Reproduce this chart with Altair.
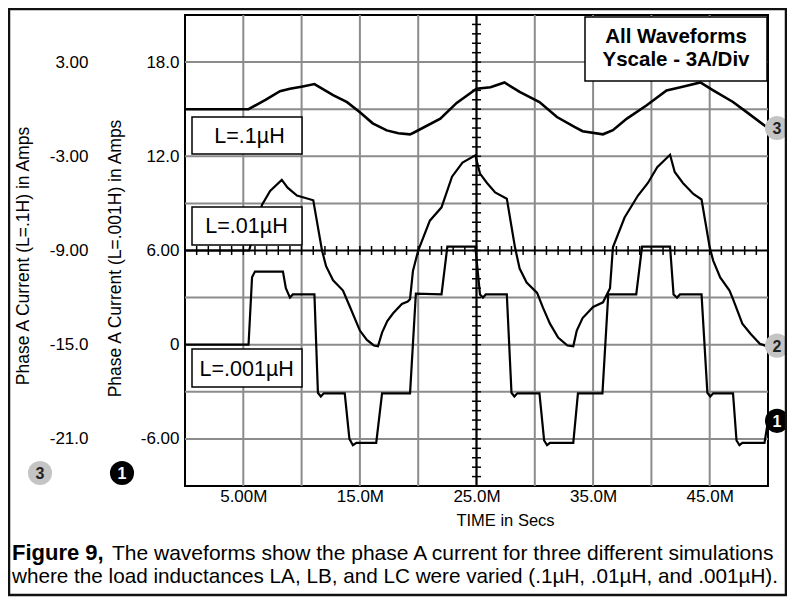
import altair as alt
import pandas as pd

FONT = "Liberation Sans"

# ---------------- data (time in "M" units, current in A on each curve's own axis) -------------
# curve 1 : L = .001 uH  (inner left axis)
t_001 = [0, 5.45, 5.75, 6.0, 8.4, 8.65, 9.0, 9.25, 11.1, 11.4, 11.65, 11.9, 13.7, 14.1, 14.4, 14.7,
         16.4, 16.9, 19.3, 19.8, 22.0, 22.5, 24.9, 25.3, 25.55, 25.8, 27.6, 28.0, 28.25, 28.5,
         30.4, 30.8, 31.05, 31.3, 33.3, 33.7, 35.8, 36.3, 38.7, 39.2, 41.6, 41.9, 42.2, 42.45,
         44.3, 44.8, 45.05, 45.3, 47.0, 47.3, 47.55, 47.8, 49.7, 50.0]
i_001 = [0, 0, 4.3, 4.66, 4.66, 3.6, 3.0, 3.2, 3.2, -3.06, -3.3, -3.1, -3.1, -6.0, -6.4, -6.25,
         -6.25, -3.1, -3.1, 3.25, 3.2, 6.25, 6.25, 3.2, 3.0, 3.2, 3.2, -3.06, -3.3, -3.1,
         -3.1, -6.1, -6.4, -6.25, -6.25, -3.1, -3.1, 3.2, 3.2, 6.25, 6.25, 3.2, 3.0, 3.2,
         3.2, -3.06, -3.3, -3.1, -3.1, -6.1, -6.4, -6.25, -6.25, -4.85]

# curve 2 : L = .01 uH  (drawn 6 A above the inner axis zero)
t_01 = [0, 5.5, 6.6, 7.3, 8.3, 8.8, 9.6, 11.0, 11.75, 12.1, 12.7, 13.55, 14.15, 15.0, 15.6, 16.2,
        16.55, 16.9, 17.35, 17.85, 18.6, 19.1, 19.3, 19.55, 20.0, 21.0, 22.0, 22.9, 23.8, 24.9,
        25.3, 25.9, 26.6, 27.6, 28.3, 28.7, 29.3, 30.2, 30.7, 31.3, 32.0, 32.8, 33.3, 33.6,
        34.1, 35.0, 35.85, 36.45, 36.7, 37.7, 38.85, 39.7, 40.5, 41.6, 42.0, 42.7, 43.6, 44.3,
        45.0, 45.3, 45.9, 46.7, 47.0, 47.8, 48.5, 49.3, 49.9, 50.0]
i_01 = [0, 0, 2.9, 3.8, 4.5, 4.0, 3.5, 3.2, 0.0, -1.0, -1.9, -2.55, -3.6, -5.1, -5.7, -6.05,
        -6.1, -5.23, -4.5, -4.0, -3.4, -3.25, -3.1, -1.3, 0.0, 1.9, 2.75, 4.7, 5.6, 6.06,
        4.9, 4.3, 3.7, 3.3, 0.2, -1.15, -2.04, -2.7, -3.64, -4.66, -5.55, -6.05, -6.1, -5.1,
        -4.3, -3.6, -3.3, -2.4, 0.2, 2.1, 3.5, 4.3, 5.3, 6.1, 5.0, 4.3, 3.6, 3.25,
        0.2, -0.64, -1.72, -2.55, -3.1, -4.66, -5.3, -5.94, -6.1, -6.06]
OFFSET_01 = 6

# curve 3 : L = .1 uH  (outer left axis)
t_1 = [0, 5.45, 6.9, 8.15, 9.0, 10.1, 11.1, 12.7, 13.9, 15.0, 16.1, 17.3, 18.3, 19.3, 19.6, 21.9,
       23.3, 25.0, 26.2, 27.4, 28.7, 30.4, 31.9, 33.4, 34.1, 35.85, 36.7, 37.9, 39.6, 41.3, 42.5,
       44.2, 45.3, 47.0, 48.2, 50.0]
i_1 = [0, 0, 0.6, 1.15, 1.3, 1.45, 1.6, 0.9, 0.45, -0.2, -0.9, -1.35, -1.53, -1.6, -1.5, -0.6,
       0.4, 1.3, 1.4, 1.7, 1.1, 0.46, -0.5, -1.13, -1.4, -1.6, -1.34, -0.6, 0.25, 1.2, 1.4,
       1.7, 1.2, 0.46, -0.2, -1.2]

x_label_vals = [5, 15, 25, 35, 45]
x_grid_vals = [5, 10, 15, 20, 25, 30, 35, 40, 45]
y_grid_vals = [-6, -3, 0, 3, 9, 12, 15, 18]
y_inner_vals = [-6, 0, 6, 12, 18]
y_outer_vals = [-21, -15, -9, -3, 3]
x_minor_vals = list(range(0, 51))
y_minor_vals = [round(-9 + 0.6 * k, 2) for k in range(51)]
CENTER_T = 25
CENTER_V = 6

NUM = "(datum.value < 0 ? '-' : '') + (datum.value == 0 ? '0' : format(abs(datum.value), '.3r'))"

df1 = pd.DataFrame({"t": t_001, "v": i_001})
df2 = pd.DataFrame({"t": t_01, "i": i_01})
df3 = pd.DataFrame({"t": t_1, "v": i_1})
dummy = pd.DataFrame({"a": [0]})

x_enc = alt.X("t:Q", scale=alt.Scale(domain=[0, 50], nice=False, zero=False),
              axis=alt.Axis(values=x_label_vals, labelExpr="format(datum.value, '.3r') + 'M'",
                            grid=False, domain=False, ticks=False, tickSize=0, labelPadding=2,
                            labelFontSize=17, labelFont=FONT, labelColor="black", labelFlush=False,
                            title="TIME in Secs", titleFont=FONT, titleFontSize=16.5,
                            titleFontWeight="normal", titleColor="black", titleX=320, titleY=39,
                            titleAlign="center", titleBaseline="alphabetic"))

y_inner = alt.Y("v:Q", scale=alt.Scale(domain=[-9, 21], nice=False, zero=False),
                axis=alt.Axis(values=y_inner_vals, labelExpr=NUM, grid=False, domain=False,
                              ticks=False, tickSize=0, labelPadding=6, labelFontSize=17,
                              labelFont=FONT, labelColor="black", labelFlush=False,
                              title="Phase A Current (L=.001H) in Amps", titleFont=FONT,
                              titleFontSize=17.5, titleFontWeight="normal", titleColor="black",
                              titleAngle=270, titleX=-70, titleY=243, titleAlign="center",
                              titleBaseline="middle"))

y_outer = alt.Y("v:Q", scale=alt.Scale(domain=[-24, 6], nice=False, zero=False),
                axis=alt.Axis(orient="left", offset=97, values=y_outer_vals, labelExpr=NUM,
                              grid=False, domain=False, ticks=False, tickSize=0, labelPadding=0,
                              labelFontSize=17, labelFont=FONT, labelColor="black", labelFlush=False,
                              title="Phase A Current (L=.1H) in Amps", titleFont=FONT,
                              titleFontSize=17.5, titleFontWeight="normal", titleColor="black",
                              titleAngle=270, titleX=-65, titleY=240.5, titleAlign="center",
                              titleBaseline="middle"))

GRID = "#8c8c8c"
BADGE = 580
BX = 9

# ---------------- layer A : grid, crosshair, curves 1 and 2 ----------------
vgrid = alt.Chart(pd.DataFrame({"t": x_grid_vals})).mark_rule(color=GRID, strokeWidth=2).encode(x=x_enc)
hgrid = alt.Chart(pd.DataFrame({"v": y_grid_vals})).mark_rule(color=GRID, strokeWidth=2).encode(y=y_inner)
hcross = alt.Chart(pd.DataFrame({"v": [CENTER_V]})).mark_rule(color="black", strokeWidth=2).encode(y=y_inner)
vcross = alt.Chart(pd.DataFrame({"t": [CENTER_T]})).mark_rule(color="black", strokeWidth=2).encode(x=x_enc)
hticks = alt.Chart(pd.DataFrame({"t": x_minor_vals, "v": [CENTER_V] * len(x_minor_vals)})).mark_tick(
    orient="vertical", size=9, thickness=1.5, color="black", opacity=1).encode(x=x_enc, y=y_inner)
vticks = alt.Chart(pd.DataFrame({"t": [CENTER_T] * len(y_minor_vals), "v": y_minor_vals})).mark_tick(
    orient="horizontal", size=9, thickness=1.5, color="black", opacity=1).encode(x=x_enc, y=y_inner)

c1 = alt.Chart(df1).mark_line(color="black", strokeWidth=2.2).encode(x=x_enc, y=y_inner)
c2 = alt.Chart(df2).transform_calculate(v=f"datum.i + {OFFSET_01}").mark_line(
    color="black", strokeWidth=2.2).encode(x=x_enc, y=y_inner)

end1 = pd.DataFrame({"t": [t_001[-1]], "v": [i_001[-1]]})
end2 = pd.DataFrame({"t": [t_01[-1]], "i": [i_01[-1]]})
m1c = alt.Chart(end1).mark_point(shape="circle", filled=True, color="black", opacity=1, strokeWidth=0,
                                 xOffset=BX).encode(x=x_enc, y=y_inner, size=alt.value(BADGE))
m1t = alt.Chart(end1).mark_text(text="1", color="white", fontWeight="bold", fontSize=16, xOffset=BX,
                                dy=1, align="center", baseline="middle").encode(x=x_enc, y=y_inner)
m2c = alt.Chart(end2).transform_calculate(v=f"datum.i + {OFFSET_01}").mark_point(
    shape="circle", filled=True, color="#c4c4c4", opacity=1, strokeWidth=0, xOffset=BX).encode(
    x=x_enc, y=y_inner, size=alt.value(BADGE))
m2t = alt.Chart(end2).transform_calculate(v=f"datum.i + {OFFSET_01}").mark_text(
    text="2", color="#222222", fontWeight="bold", fontSize=16, xOffset=BX, dy=1,
    align="center", baseline="middle").encode(x=x_enc, y=y_inner)

layerA = alt.layer(vgrid, hgrid, hcross, vcross, hticks, vticks, c1, c2, m1c, m1t, m2c, m2t)

# ---------------- layer B : curve 3 on its own axis ----------------
c3 = alt.Chart(df3).mark_line(color="black", strokeWidth=2.6).encode(x=x_enc, y=y_outer)
end3 = pd.DataFrame({"t": [t_1[-1]], "v": [i_1[-1]]})
m3c = alt.Chart(end3).mark_point(shape="circle", filled=True, color="#c4c4c4", opacity=1, strokeWidth=0,
                                 xOffset=BX).encode(x=x_enc, y=y_outer, size=alt.value(BADGE))
m3t = alt.Chart(end3).mark_text(text="3", color="#222222", fontWeight="bold", fontSize=16, xOffset=BX,
                                dy=1, align="center", baseline="middle").encode(x=x_enc, y=y_outer)
layerB = alt.layer(c3, m3c, m3t)


# ---------------- layer C : annotations ----------------
def box(x1, x2, y1, y2, sw=1.5):
    return alt.Chart(dummy).mark_rect(fill="white", stroke="black", strokeWidth=sw).encode(
        x=alt.value(x1), x2=alt.value(x2), y=alt.value(y1), y2=alt.value(y2))


def label(txt, x, y, size, weight="normal", align="center", color="black"):
    return alt.Chart(dummy).mark_text(text=txt, fontSize=size, fontWeight=weight, align=align,
                                      baseline="alphabetic", color=color, font=FONT).encode(
        x=alt.value(x), y=alt.value(y))


def badge(x, y, num, fill, tcolor):
    c = alt.Chart(dummy).mark_point(shape="circle", filled=True, color=fill, opacity=1, strokeWidth=0).encode(
        x=alt.value(x), y=alt.value(y), size=alt.value(BADGE))
    t = alt.Chart(dummy).mark_text(text=num, color=tcolor, fontWeight="bold", fontSize=16, dy=1,
                                   align="center", baseline="middle").encode(x=alt.value(x), y=alt.value(y))
    return [c, t]


frame = alt.Chart(dummy).mark_rect(fill="white", fillOpacity=0, stroke="#111111", strokeWidth=2.5).encode(
    x=alt.value(-176), x2=alt.value(601), y=alt.value(-6), y2=alt.value(580))

ann = [
    box(7, 117, 102, 139), label("L=.1µH", 64.5, 128, 21.5),
    box(7, 117, 192, 230), label("L=.01µH", 61.5, 218, 21.5),
    box(7, 117, 334, 372), label("L=.001µH", 61.7, 361, 21.5),
    box(400, 582, 2, 66), label("All Waveforms", 491, 28, 20.5, "bold"),
    label("Yscale - 3A/Div", 491, 51, 20.5, "bold"),
    *badge(-145, 458, "3", "#c4c4c4", "#222222"),
    *badge(-63, 458, "1", "black", "white"),
    label("Figure 9,", -173, 545, 22, "bold", "left"),
    label("The waveforms show the phase A current for three different simulations", -73, 545, 21, "normal", "left"),
    label("where the load inductances LA, LB, and LC were varied (.1µH, .01µH, and .001µH).", -173, 568, 20.7, "normal", "left"),
    frame,
]
layerC = alt.layer(*ann)

chart = alt.layer(layerA, layerB, layerC).resolve_scale(y="independent").properties(
    width=583, height=471,
    padding={"left": 177, "top": 7, "right": 19, "bottom": 111},
    autosize=alt.AutoSizeParams(type="none"),
    background="white",
).configure(font=FONT).configure_view(stroke="black", strokeWidth=2)

chart.save("out.html", embed_options={"renderer": "svg", "actions": False})
